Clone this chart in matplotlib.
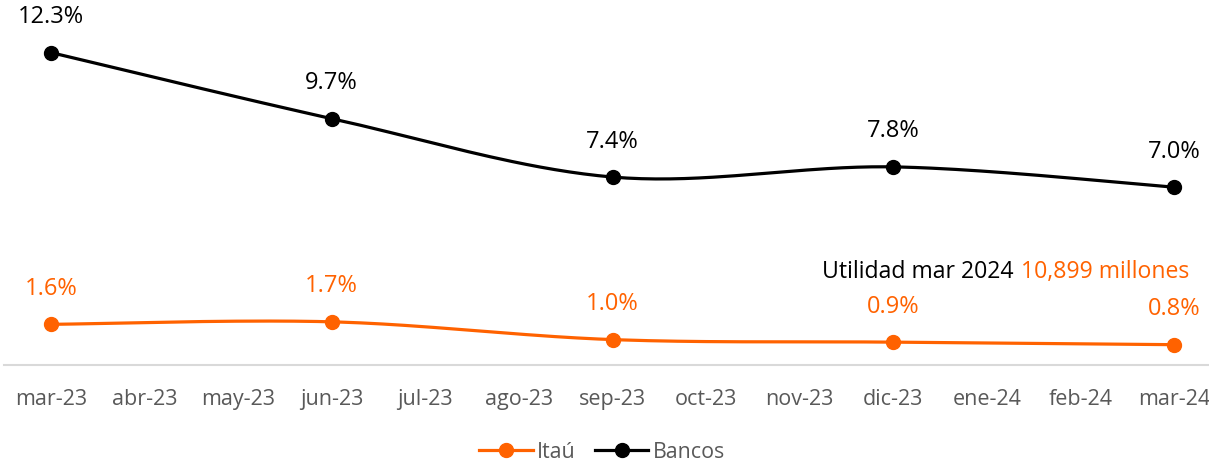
import numpy as np
import matplotlib
matplotlib.use("Agg")
import matplotlib.pyplot as plt
from matplotlib.lines import Line2D

months = ["mar-23", "abr-23", "may-23", "jun-23", "jul-23", "ago-23", "sep-23",
          "oct-23", "nov-23", "dic-23", "ene-24", "feb-24", "mar-24"]
point_idx = [0, 3, 6, 9, 12]
bancos = [12.3, 9.7, 7.4, 7.8, 7.0]
itau = [1.6, 1.7, 1.0, 0.9, 0.8]
note_black = "Utilidad mar 2024"
note_orange = "10,899 millones"

ORANGE = "#FF6200"
BLACK = "#000000"
GREY = "#595959"
FONT = "Open Sans"

plt.rcParams["font.family"] = [FONT, "DejaVu Sans"]


def smooth(xs, ys, n=40):
    xs = np.asarray(xs, float)
    ys = np.asarray(ys, float)
    px = np.concatenate([[xs[0]], xs, [xs[-1]]])
    py = np.concatenate([[ys[0]], ys, [ys[-1]]])
    ox, oy = [], []
    for i in range(1, len(px) - 2):
        p0 = np.array([px[i - 1], py[i - 1]])
        p1 = np.array([px[i], py[i]])
        p2 = np.array([px[i + 1], py[i + 1]])
        p3 = np.array([px[i + 2], py[i + 2]])
        c1 = p1 + (p2 - p0) / 6.0
        c2 = p2 - (p3 - p1) / 6.0
        t = np.linspace(0, 1, n)[:, None]
        b = ((1 - t) ** 3) * p1 + 3 * ((1 - t) ** 2) * t * c1 + 3 * (1 - t) * t ** 2 * c2 + t ** 3 * p2
        ox.extend(b[:, 0])
        oy.extend(b[:, 1])
    return np.array(ox), np.array(oy)


W, H = 1209, 466
fig = plt.figure(figsize=(W / 100, H / 100), dpi=100)
left_px, right_px = 4.2, 1220.8
bottom_px, top_px = 365, 9.4
ax = fig.add_axes([left_px / W, 1 - bottom_px / H, (right_px - left_px) / W, (bottom_px - top_px) / H])
ax.set_xlim(-0.5, len(months) - 0.5)
ax.set_ylim(0, 14)

for vals, col in [(itau, ORANGE), (bancos, BLACK)]:
    sx, sy = smooth(point_idx, vals)
    ax.plot(sx, sy, color=col, lw=2.3, solid_capstyle="round", zorder=3)
    ax.plot(point_idx, vals, "o", color=col, ms=10, zorder=4)
    for x, v in zip(point_idx, vals):
        ax.annotate(f"{v:.1f}%", (x, v), xytext=(0, 25.5), textcoords="offset points",
                    ha="center", va="center", fontsize=17, color=col)

for s in ["top", "right", "left"]:
    ax.spines[s].set_visible(False)
ax.spines["bottom"].set_color("#D9D9D9")
ax.spines["bottom"].set_linewidth(1.5)
ax.set_yticks([])
ax.set_xticks(range(len(months)))
ax.set_xticklabels(months, fontsize=15.5, color=GREY)
ax.tick_params(axis="x", length=0, pad=17)

fig.text(1014 / W, 1 - 272 / H, note_black, ha="right", va="center", fontsize=16.6, color=BLACK)
fig.text(1021 / W, 1 - 272 / H, note_orange, ha="left", va="center", fontsize=16.6, color=ORANGE)

handles = [Line2D([], [], color=ORANGE, lw=2.3, marker="o", ms=10),
           Line2D([], [], color=BLACK, lw=2.3, marker="o", ms=10)]
fig.legend(handles, ["Itaú", "Bancos"], loc="center", bbox_to_anchor=(602 / W, 1 - 452 / H),
           ncol=2, frameon=False, fontsize=15.4, labelcolor=GREY, handlelength=2.5,
           handletextpad=0.2, columnspacing=0.9)

fig.savefig("out.png", dpi=100)
